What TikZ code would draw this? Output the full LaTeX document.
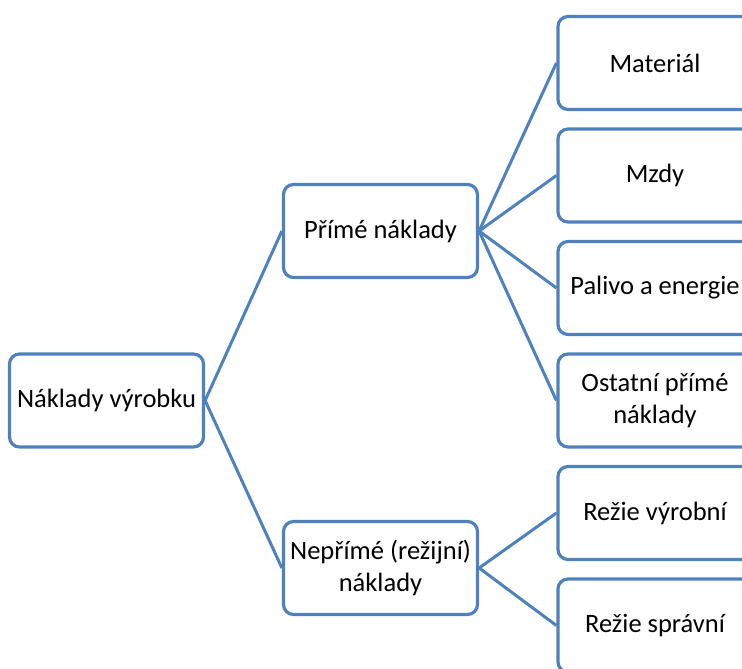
\documentclass[tikz,border=0pt]{standalone}
\usepackage{fontspec}
\setmainfont{Carlito}
\definecolor{boxblue}{HTML}{4F81BD}
\begin{document}
\begin{tikzpicture}[x=1pt,y=-1pt,
  box/.style={draw=boxblue,line width=3.2pt,rounded corners=10pt,fill=white,
    minimum width=194pt,minimum height=93pt,inner sep=2pt,align=center,
    font=\fontsize{26.5}{32}\selectfont,text=black},
  conn/.style={draw=boxblue,line width=3pt}]
\clip (0,0) rectangle (742,669);
\node[box] (root) at (106.5,400.5) {Náklady výrobku};
\node[box] (prime) at (380.5,231) {Přímé náklady};
\node[box] (neprime) at (380.5,568) {Nepřímé (režijní)\\náklady};
\node[box] (mat) at (655,63) {Materiál};
\node[box] (mzdy) at (655,175.5) {Mzdy};
\node[box] (pal) at (655,288) {Palivo a energie};
\node[box] (ost) at (655,400.5) {Ostatní přímé\\náklady};
\node[box] (rv) at (655,513) {Režie výrobní};
\node[box] (rs) at (655,625.5) {Režie správní};
\draw[conn] (root.east) -- (prime.west);
\draw[conn] (root.east) -- (neprime.west);
\draw[conn] (prime.east) -- (mat.west);
\draw[conn] (prime.east) -- (mzdy.west);
\draw[conn] (prime.east) -- (pal.west);
\draw[conn] (prime.east) -- (ost.west);
\draw[conn] (neprime.east) -- (rv.west);
\draw[conn] (neprime.east) -- (rs.west);
\end{tikzpicture}
\end{document}
